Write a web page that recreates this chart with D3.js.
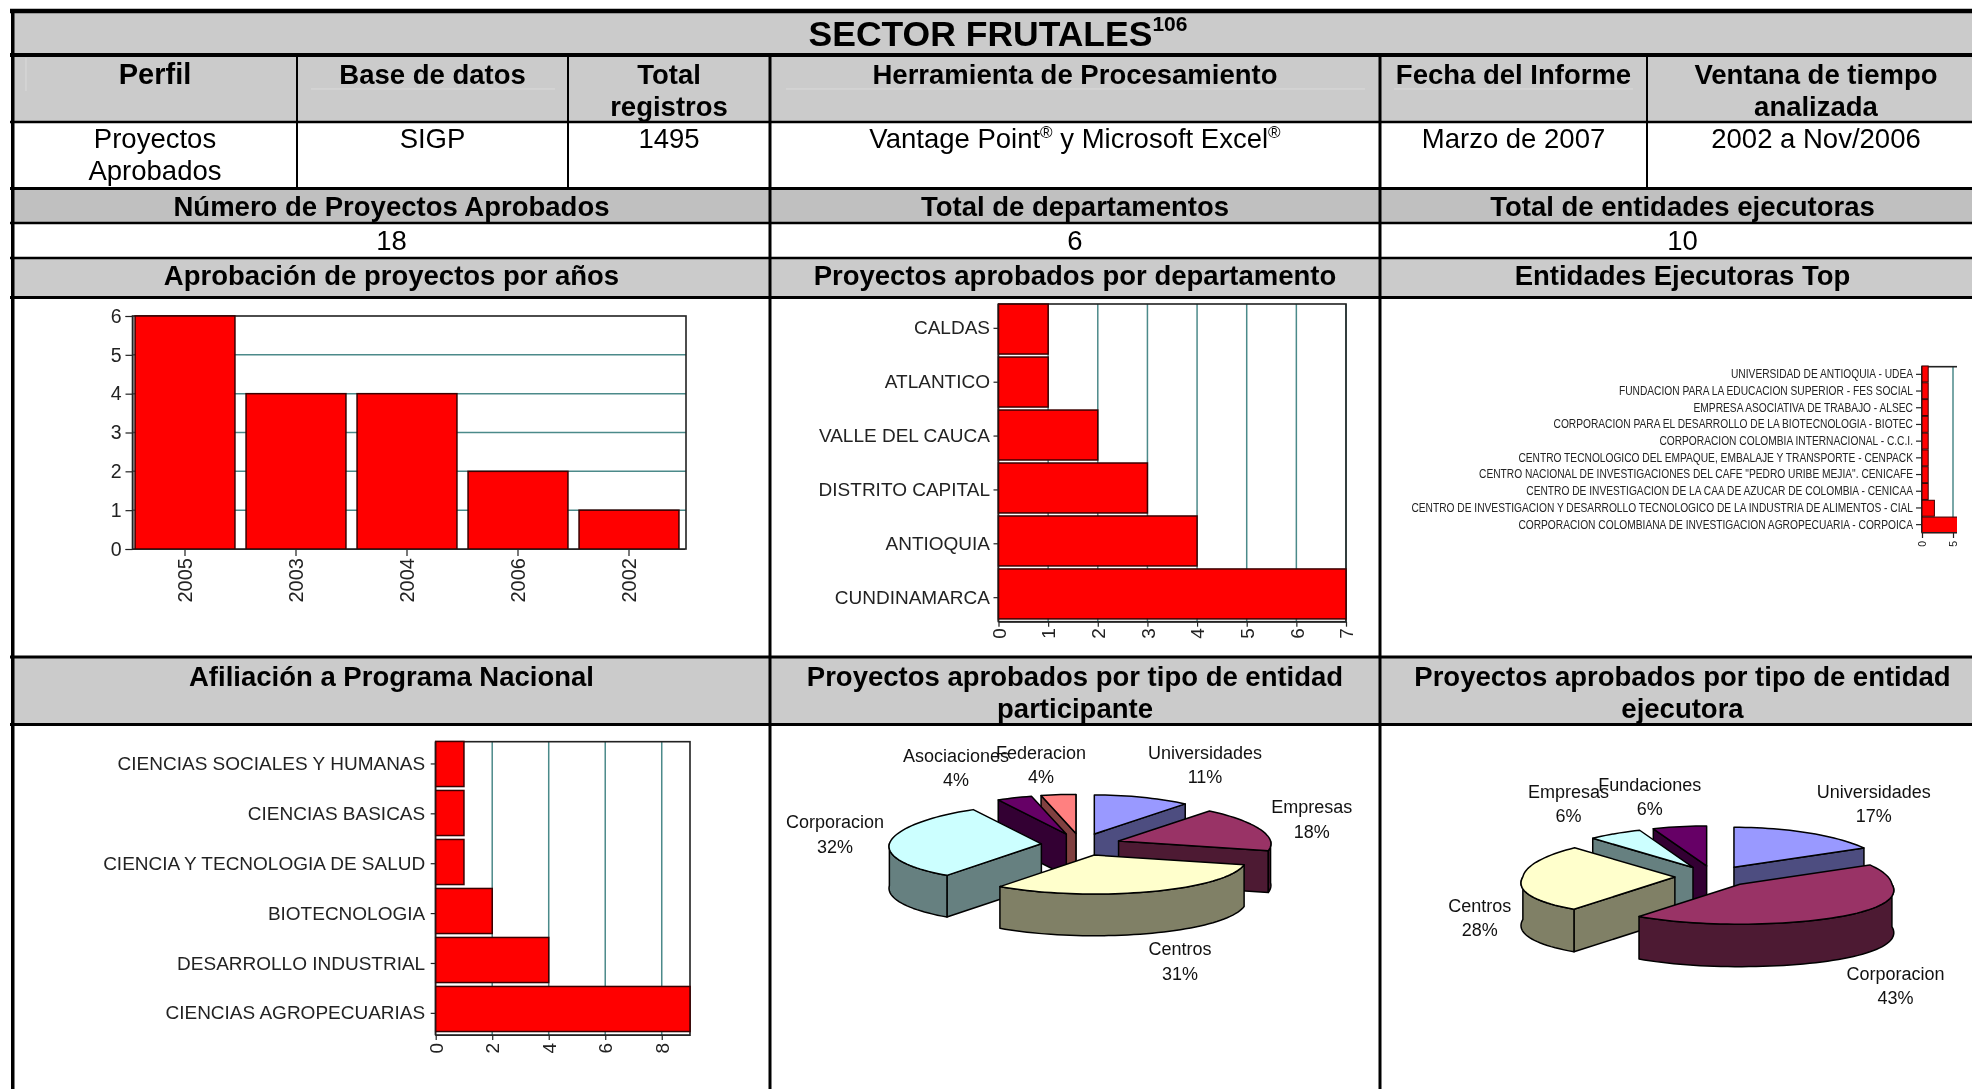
<!DOCTYPE html>
<html><head><meta charset="utf-8">
<script src="https://cdn.jsdelivr.net/npm/d3@7"></script>
<style>
html,body{margin:0;padding:0;background:#fff;overflow:hidden}
svg{display:block}
text{font-family:"Liberation Sans",Arial,sans-serif}
</style></head><body>
<svg id="c" width="1972" height="1089"></svg>
<script>
// ---------- DATA ----------
const titleText = "SECTOR FRUTALES";
const titleSup = "106";
const headerLabels = [["Perfil"],["Base de datos"],["Total","registros"],["Herramienta de Procesamiento"],["Fecha del Informe"],["Ventana de tiempo","analizada"]];
const valueLabels = [["Proyectos","Aprobados"],["SIGP"],["1495"],["Vantage Point| y Microsoft Excel|"],["Marzo de 2007"],["2002 a Nov/2006"]];
const statLabels = ["Número de Proyectos Aprobados","Total de departamentos","Total de entidades ejecutoras"];
const statValues = ["18","6","10"];
const chartTitles1 = ["Aprobación de proyectos por años","Proyectos aprobados por departamento","Entidades Ejecutoras Top"];
const chartTitles2 = [["Afiliación a Programa Nacional"],["Proyectos aprobados por tipo de entidad","participante"],["Proyectos aprobados por tipo de entidad","ejecutora"]];

const yearCats = ["2005","2003","2004","2006","2002"];
const yearVals = [6,4,4,2,1];
const deptCats = ["CALDAS","ATLANTICO","VALLE DEL CAUCA","DISTRITO CAPITAL","ANTIOQUIA","CUNDINAMARCA"];
const deptVals = [1,1,2,3,4,7];
const entCats = ["UNIVERSIDAD DE ANTIOQUIA - UDEA","FUNDACION PARA LA EDUCACION SUPERIOR - FES SOCIAL","EMPRESA ASOCIATIVA DE TRABAJO - ALSEC","CORPORACION PARA EL DESARROLLO DE LA BIOTECNOLOGIA - BIOTEC","CORPORACION COLOMBIA INTERNACIONAL - C.C.I.","CENTRO TECNOLOGICO DEL EMPAQUE, EMBALAJE Y TRANSPORTE - CENPACK","CENTRO NACIONAL DE INVESTIGACIONES DEL CAFE \"PEDRO URIBE MEJIA\". CENICAFE","CENTRO DE INVESTIGACION DE LA CAA DE AZUCAR DE COLOMBIA - CENICAA","CENTRO DE INVESTIGACION Y DESARROLLO TECNOLOGICO DE LA INDUSTRIA DE ALIMENTOS - CIAL","CORPORACION COLOMBIANA DE INVESTIGACION AGROPECUARIA - CORPOICA"];
const entVals = [1,1,1,1,1,1,1,1,2,8];
const progCats = ["CIENCIAS SOCIALES Y HUMANAS","CIENCIAS BASICAS","CIENCIA Y TECNOLOGIA DE SALUD","BIOTECNOLOGIA","DESARROLLO INDUSTRIAL","CIENCIAS AGROPECUARIAS"];
const progVals = [1,1,1,2,4,9];
const pie1Cats = ["Universidades","Empresas","Centros","Corporacion","Asociaciones","Federacion"];
const pie1Vals = [11,18,31,32,4,4];
const pie2Cats = ["Universidades","Corporacion","Centros","Empresas","Fundaciones"];
const pie2Vals = [17,43,28,6,6];

// ---------- LAYOUT ----------
const svg = d3.select("#c");
const pieColors1 = ["#9999FF","#993366","#FFFFCC","#CCFFFF","#660066","#FF8080"];
const pieSides1  = ["#4D4D80","#4D1A33","#808066","#668080","#330033","#804040"];
const pieColors2 = ["#9999FF","#993366","#FFFFCC","#CCFFFF","#660066"];
const pieSides2  = ["#4D4D80","#4D1A33","#808066","#668080","#330033"];
const pie1Lbl = [[1205,752.7],[1311.7,807],[1180,949],[835,822],[956,755.7],[1041,752.7]];
const pie2Lbl = [[1873.7,791.7],[1895.6,973.7],[1479.8,905.7],[1568.5,791.7],[1649.8,784.3]];

const L=13, R=2000, C1=770, C2=1380;
const cols=[L,297,568,C1,C2,1647,1985];
const colMid=cols.slice(0,-1).map((x,i)=>(x+cols[i+1])/2);
const secMid=[(L+C1)/2,(C1+C2)/2,(C2+1985)/2];

// ---------- TABLE BACKGROUNDS ----------
const t=svg.append("g");
[[11,55,"#cbcbcb"],[55,122,"#cbcbcb"],[188,223,"#c0c0c0"],[258,298,"#cbcbcb"],[657,724,"#cbcbcb"]].forEach(r=>
  t.append("rect").attr("x",L).attr("y",r[0]).attr("width",R-L).attr("height",r[1]-r[0]).attr("fill",r[2]));
// faint scan artefacts in the header cells
[[311,555],[786,1365],[1394,1633]].forEach(s=>
  t.append("line").attr("x1",s[0]).attr("x2",s[1]).attr("y1",89).attr("y2",89).attr("stroke","#dadada"));
t.append("line").attr("x1",26).attr("x2",26).attr("y1",58).attr("y2",91).attr("stroke","#dadada");

// ---------- BAR CHARTS ----------
const defs=svg.append("defs");
defs.append("filter").attr("id","soft").attr("x","-5%").attr("y","-5%").attr("width","110%").attr("height","110%")
  .append("feGaussianBlur").attr("stdDeviation",0.45);
defs.append("clipPath").attr("id","clipEnt").append("rect").attr("x",1100).attr("y",340).attr("width",857).attr("height",240);

const GRID="#4c8a8a", DARK="#222222", RED="#ff0000", EDGE="#3a0000";

function vBars(o){
  const g=svg.append("g").attr("filter","url(#soft)");
  const x=d3.scaleBand().domain(o.cats).range(o.xr).paddingInner(o.pi).paddingOuter(o.po);
  const y=d3.scaleLinear().domain([0,6]).range(o.yr);
  g.selectAll(".gl").data(y.ticks(6).slice(1,-1)).join("line").attr("x1",o.px[0]).attr("x2",o.px[1])
    .attr("y1",y).attr("y2",y).attr("stroke",GRID).attr("stroke-width",1.5);
  g.append("rect").attr("x",o.px[0]).attr("y",o.yr[1]).attr("width",o.px[1]-o.px[0]).attr("height",o.yr[0]-o.yr[1])
    .attr("fill","none").attr("stroke",DARK).attr("stroke-width",1.6);
  g.selectAll(".b").data(o.vals).join("rect").attr("x",(d,i)=>x(o.cats[i])).attr("y",y)
    .attr("width",x.bandwidth()).attr("height",d=>o.yr[0]-y(d)).attr("fill",RED).attr("stroke",EDGE).attr("stroke-width",1.5);
  const ax=g.append("g").attr("transform",`translate(${o.px[0]},0)`).call(d3.axisLeft(y).ticks(6).tickFormat(d3.format("d")).tickSize(7).tickPadding(4));
  const bx=g.append("g").attr("transform",`translate(0,${o.yr[0]})`).call(d3.axisBottom(x).tickSize(7).tickSizeOuter(0).tickPadding(2));
  [ax,bx].forEach(a=>{a.select(".domain").attr("stroke",DARK);a.selectAll("line").attr("stroke",DARK).attr("stroke-width",1.2);
    a.selectAll("text").attr("font-size",o.fs).attr("fill",DARK).attr("font-family","Liberation Sans");});
  bx.selectAll("text").attr("font-size",o.xfs).attr("transform","rotate(-90)").attr("text-anchor","end").attr("x",-9).attr("y",0).attr("dy","0.35em");
}
function hBars(o){
  const clip=o.clip?`url(#${o.clip})`:null;
  const outer=svg.append("g").attr("filter","url(#soft)");
  const g=outer.append("g").attr("clip-path",clip);
  const y=d3.scaleBand().domain(o.cats).range(o.yr).paddingInner(o.pi).paddingOuter(o.po);
  const yLabel=d3.scaleBand().domain(o.cats).range(o.lr||o.yr);
  const x=d3.scaleLinear().domain([0,o.max]).range(o.xr);
  const tv=d3.range(0,(o.tickMax||o.max)+0.001,o.step);
  g.selectAll(".gl").data(tv.slice(1)).join("line").attr("x1",x).attr("x2",x)
    .attr("y1",o.frame[0]).attr("y2",o.frame[1]).attr("stroke",GRID).attr("stroke-width",1.5);
  g.append("rect").attr("x",o.xr[0]).attr("y",o.frame[0]).attr("width",o.xr[1]-o.xr[0]).attr("height",o.frame[1]-o.frame[0])
    .attr("fill","none").attr("stroke",DARK).attr("stroke-width",1.6);
  g.selectAll(".b").data(o.vals).join("rect").attr("x",o.xr[0]).attr("y",(d,i)=>y(o.cats[i]))
    .attr("width",d=>x(d)-o.xr[0]).attr("height",y.bandwidth()).attr("fill",RED).attr("stroke",EDGE).attr("stroke-width",o.sw||1.5);
  const ax=g.append("g").attr("transform",`translate(${o.xr[0]},0)`).call(d3.axisLeft(yLabel).tickSize(o.tl).tickSizeOuter(0));
  const bx=g.append("g").attr("transform",`translate(0,${o.frame[1]})`).call(d3.axisBottom(x).tickValues(tv).tickFormat(d3.format("d")).tickSize(o.tl).tickSizeOuter(0));
  [ax,bx].forEach(a=>{a.select(".domain").attr("stroke",DARK);a.selectAll("line").attr("stroke",DARK).attr("stroke-width",1.2);
    a.selectAll("text").attr("fill",DARK).attr("font-family","Liberation Sans");});
  ax.select(".domain").attr("d",`M-0.5,${o.frame[0]}V${o.frame[1]}`);
  ax.selectAll("text").attr("font-size",o.fs).attr("x",0).attr("transform",`translate(${-o.gap},0) scale(${o.sx||1},1)`);
  bx.selectAll("text").attr("font-size",o.tfs||o.fs).attr("transform","rotate(-90)").attr("text-anchor","end")
    .attr("x",-(o.tl+o.tp)).attr("y",0).attr("dy","0.35em");
}

vBars({cats:yearCats,vals:yearVals,xr:[129.5,684.5],pi:0.1,po:0.05,px:[132.5,686],yr:[549,316],fs:19.5,xfs:20});
hBars({cats:deptCats,vals:deptVals,xr:[998.5,1346],max:7,step:1,yr:[302.5,620.5],lr:[301.4,624.6],pi:0.057,po:0.03,frame:[304,621.7],tl:5,tp:1.5,gap:8.5,fs:19,tfs:19});
hBars({cats:entCats,vals:entVals,xr:[1922,1984],max:10,step:5,tickMax:5,yr:[366,533],pi:0.05,po:0.0,frame:[366.7,532],tl:6,tp:3,gap:9,fs:12,sx:0.852,tfs:10.5,sw:1,clip:"clipEnt"});
hBars({cats:progCats,vals:progVals,xr:[435.7,690],max:9,step:2,yr:[739.5,1033.5],lr:[739,1038.3],pi:0.08,po:0.04,frame:[741.7,1035],tl:5,tp:3,gap:10.5,fs:19,tfs:19});

// ---------- 3D PIES ----------
function pie3d(o){
  const g=svg.append("g");
  const arcs=d3.pie().value(d=>d).sort(null)(o.vals);
  // the reference's 3D projection: front of the pie a little wider, back a little narrower
  const rxAt=a=>o.rx*(1+o.front*Math.max(0,-Math.cos(a))-o.back*Math.max(0,Math.cos(a)));
  const pt=(c,a)=>[c[0]+rxAt(a)*Math.sin(a),c[1]-o.ry*Math.cos(a)];
  const line=d3.line();
  const samples=(a,b)=>{const n=Math.max(2,Math.ceil((b-a)/0.04));return d3.range(n+1).map(i=>a+(b-a)*i/n);};
  const slices=arcs.map((d,i)=>({a:d.startAngle,b:d.endAngle,m:(d.startAngle+d.endAngle)/2,i}));
  slices.sort((p,q)=>(-Math.cos(p.m))-(-Math.cos(q.m)));
  const down=(p)=>[p[0],p[1]+o.depth];
  slices.forEach(s=>{
    const c=[o.cx+o.dx*Math.sin(s.m),o.cy-o.dy*Math.cos(s.m)];
    const sg=g.append("g").attr("stroke","#000").attr("stroke-width",1.5).attr("stroke-linejoin","round");
    const side=o.sides[s.i], top=o.colors[s.i];
    if(Math.sin(s.b)>0){const e=pt(c,s.b);
      sg.append("path").attr("fill",side).attr("d",line([c,e,down(e),down(c)])+"Z");}
    if(Math.sin(s.a)<0){const e=pt(c,s.a);
      sg.append("path").attr("fill",side).attr("d",line([c,e,down(e),down(c)])+"Z");}
    const lo=Math.max(s.a,Math.PI/2), hi=Math.min(s.b,Math.PI*1.5);
    if(hi>lo){const up=samples(lo,hi).map(a=>pt(c,a));
      sg.append("path").attr("fill",side).attr("d",line(up.concat(up.slice().reverse().map(down)))+"Z");}
    const edge=samples(s.a,s.b).map(a=>pt(c,a));
    sg.append("path").attr("fill",top).attr("d",line([c].concat(edge))+"Z");
  });
  o.cats.forEach((n,i)=>{
    g.append("text").attr("x",o.lbl[i][0]).attr("y",o.lbl[i][1]+6.2).attr("text-anchor","middle").attr("font-size",18).attr("fill","#111").text(n);
    g.append("text").attr("x",o.lbl[i][0]).attr("y",o.lbl[i][1]+30.6).attr("text-anchor","middle").attr("font-size",18).attr("fill","#111").text(o.vals[i]+"%");
  });
}
pie3d({cats:pie1Cats,vals:pie1Vals,colors:pieColors1,sides:pieSides1,lbl:pie1Lbl,cx:1080.9,cy:844.5,rx:152,ry:39,dx:39.6,dy:11.2,depth:41.7,front:0.07,back:0.08});
pie3d({cats:pie2Cats,vals:pie2Vals,colors:pieColors2,sides:pieSides2,lbl:pie2Lbl,cx:1714,cy:876.3,rx:152,ry:40,dx:39.2,dy:10.5,depth:42.5,front:0.16,back:0.05});

// ---------- TABLE GRID ----------
const hl=[[11,4.5],[55,4],[122,2.5],[188.5,3],[223,2.5],[258,2.5],[297.5,3],[657,3],[724.5,3]];
hl.forEach(h=>t.append("rect").attr("x",L-3).attr("y",h[0]-h[1]/2).attr("width",R).attr("height",h[1]).attr("fill","#000"));
t.append("rect").attr("x",11).attr("y",9).attr("width",3.5).attr("height",1080).attr("fill","#000");
[C1,C2].forEach(x=>t.append("rect").attr("x",x-1.5).attr("y",55).attr("width",3).attr("height",1034).attr("fill","#000"));
[297,568,1647].forEach(x=>t.append("rect").attr("x",x-1).attr("y",55).attr("width",2).attr("height",133).attr("fill","#000"));

// ---------- TABLE TEXT ----------
function txt(x,y,s,fs,bold){
  return svg.append("text").attr("x",x).attr("y",y).attr("text-anchor","middle").attr("font-size",fs)
    .attr("font-weight",bold?"bold":"normal").attr("fill","#000").text(s);
}
const title=svg.append("text").attr("x",998).attr("y",46).attr("text-anchor","middle").attr("font-size",35.5).attr("font-weight","bold").attr("fill","#000");
title.append("tspan").text(titleText);
title.append("tspan").attr("dy",-15).attr("font-size",21).text(titleSup);

headerLabels.forEach((ls,i)=>ls.forEach((s,j)=>txt(colMid[i],84+j*32,s,i===0?29:27.5,true)));
valueLabels.forEach((ls,i)=>ls.forEach((s,j)=>{
  const parts=s.split("|");
  if(parts.length===1){txt(colMid[i],148+j*32,s,27.5,false);return;}
  const e=svg.append("text").attr("x",colMid[i]).attr("y",148).attr("text-anchor","middle").attr("font-size",27.5).attr("fill","#000");
  e.append("tspan").text(parts[0]);
  e.append("tspan").attr("font-size",17).attr("dy",-10).text("®");
  e.append("tspan").attr("dy",10).text(parts[1]);
  e.append("tspan").attr("font-size",17).attr("dy",-10).text("®");
}));
statLabels.forEach((s,i)=>txt(secMid[i],216,s,27.5,true));
statValues.forEach((s,i)=>txt(secMid[i],250,s,27.5,false));
chartTitles1.forEach((s,i)=>txt(secMid[i],285,s,27.5,true));
chartTitles2.forEach((ls,i)=>ls.forEach((s,j)=>txt(secMid[i],686+j*32,s,27.5,true)));
</script>
</body></html>
